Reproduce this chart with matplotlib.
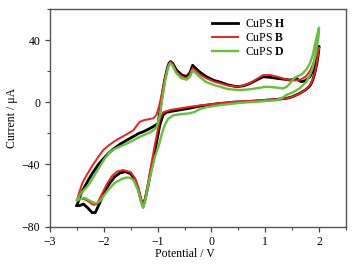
import numpy as np
import matplotlib
matplotlib.use("Agg")
import matplotlib.pyplot as plt

plt.rcParams['font.family'] = ['Liberation Serif', 'DejaVu Serif']
plt.rcParams['mathtext.fontset'] = 'custom'
plt.rcParams['mathtext.rm'] = 'Liberation Serif'
plt.rcParams['mathtext.bf'] = 'Liberation Serif:bold'

# CuPS H (black): anodic sweep -2.5 -> 2.0, then back
h_x = [-2.50, -2.45, -2.40, -2.35, -2.28, -2.20, -2.10, -2.00, -1.90, -1.80, -1.70, -1.57, -1.45,
       -1.35, -1.27, -1.18, -1.09, -1.03, -0.99, -0.93, -0.87, -0.82, -0.79, -0.76, -0.72, -0.65,
       -0.55, -0.46, -0.40, -0.35, -0.30, -0.22, -0.10, 0.05, 0.16, 0.30, 0.47, 0.60, 0.71, 0.85,
       0.96, 1.10, 1.21, 1.35, 1.46, 1.53, 1.58, 1.63, 1.67, 1.75, 1.83, 1.88, 1.92, 1.96, 2.00,
       1.99, 1.96, 1.92, 1.88, 1.83, 1.75, 1.64, 1.50, 1.39, 1.20, 1.02, 0.70, 0.40, 0.10, -0.22,
       -0.40, -0.60, -0.77, -0.84, -0.90, -0.96, -1.00, -1.05, -1.12, -1.18, -1.23, -1.27, -1.31,
       -1.36, -1.42, -1.50, -1.60, -1.70, -1.80, -1.90, -2.00, -2.08, -2.16, -2.22, -2.30, -2.38,
       -2.45, -2.50]
h_y = [-66.5, -61, -57, -54, -49.5, -45, -40, -36, -32.3, -29.5, -27, -24.3, -22,
       -20, -19, -17.5, -15.8, -14.5, -13.6, 1.4, 14.3, 22, 25, 26.2, 25, 20.7,
       17.5, 16.5, 19, 23.8, 22, 19.5, 16.5, 14, 13, 11.2, 10, 10.6, 12, 14.5,
       16.4, 16, 15.4, 14.8, 14.3, 14.8, 15.4, 14, 13.2, 14, 16.4, 20, 26, 31, 36,
       32, 25, 18.6, 14, 10.5, 8, 5.7, 3.5, 2.5, 1.8, 1.3, 0.5, 0, -1.0, -2.5,
       -3.8, -5, -6, -6.5, -8.2, -14.7, -22, -31, -43, -54, -62, -67, -63,
       -56, -50, -46, -44.7, -45.5, -48, -52.5, -58.5, -65, -71, -71, -68, -65.5,
       -66.5, -66.5]

# CuPS B (red)
b_x = [-2.50, -2.45, -2.40, -2.32, -2.20, -2.10, -2.01, -1.90, -1.80, -1.70, -1.57, -1.45, -1.40,
       -1.33, -1.25, -1.15, -1.08, -1.02, -0.97, -0.92, -0.86, -0.80, -0.76, -0.72, -0.65, -0.55,
       -0.46, -0.40, -0.35, -0.30, -0.22, -0.10, 0.05, 0.16, 0.30, 0.47, 0.60, 0.75, 0.96, 1.10,
       1.27, 1.40, 1.55, 1.65, 1.75, 1.83, 1.88, 1.93, 1.97, 2.00,
       1.97, 1.93, 1.88, 1.83, 1.75, 1.64, 1.50, 1.39, 1.20, 1.00, 0.70, 0.40, 0.12, -0.20,
       -0.40, -0.60, -0.77, -0.90, -0.96, -1.00, -1.05, -1.12, -1.18, -1.23, -1.27, -1.31, -1.36,
       -1.42, -1.50, -1.64, -1.75, -1.85, -1.95, -2.05, -2.13, -2.20, -2.28, -2.38, -2.45, -2.50]
b_y = [-63, -57, -52, -46.8, -40, -35, -30.7, -27.5, -25, -23, -20.5, -18, -15.5,
       -12.5, -11.5, -10.8, -10.3, -8, -2, 6, 16, 24, 26, 24.5, 19.5, 16.5,
       15.5, 18, 22, 20.5, 18, 15.5, 13.2, 12.2, 10.8, 10, 10.8, 13, 17.5, 17.5,
       16, 14.5, 14, 14.5, 16.5, 20, 24, 29, 33, 35,
       28, 20, 14.5, 11, 8, 5.5, 3.5, 2.5, 1.9, 1.5, 0.8, 0.3, -0.8, -2,
       -2.9, -4, -5, -6.5, -11, -18, -27, -40, -52, -61, -66, -62, -55,
       -49, -45, -43.6, -44.5, -47.5, -53, -60, -65.5, -66, -64, -62, -62.5, -63]

# CuPS D (green)
d_x = [-2.50, -2.45, -2.40, -2.33, -2.26, -2.15, -2.00, -1.89, -1.80, -1.70, -1.57, -1.45, -1.35,
       -1.25, -1.15, -1.08, -1.02, -0.97, -0.92, -0.86, -0.81, -0.77, -0.73, -0.66, -0.56, -0.46,
       -0.40, -0.35, -0.30, -0.22, -0.10, 0.05, 0.16, 0.30, 0.53, 0.75, 1.02, 1.20, 1.33, 1.40,
       1.46, 1.52, 1.58, 1.65, 1.70, 1.77, 1.83, 1.88, 1.93, 1.97, 2.00,
       1.99, 1.96, 1.93, 1.88, 1.83, 1.76, 1.70, 1.64, 1.52, 1.39, 1.30, 1.21, 0.90, 0.50, 0.16,
       -0.10, -0.22, -0.30, -0.40, -0.55, -0.70, -0.80, -0.87, -0.92, -0.98, -1.05, -1.12, -1.18,
       -1.23, -1.27, -1.31, -1.36, -1.45, -1.52, -1.58, -1.68, -1.80, -1.90, -2.00, -2.07, -2.13,
       -2.20, -2.28, -2.36, -2.41, -2.50]
d_y = [-63, -60, -57.5, -55, -52, -45.5, -37, -32, -30, -28.5, -26.5, -24.5, -22.5,
       -21, -19.5, -18, -16, -10, 1, 14, 22, 25, 24, 19, 15.5, 14.5,
       16.5, 20.5, 19, 16.4, 13, 11, 10, 8.5, 7.8, 8.5, 10, 9.5, 8.9, 10,
       12.1, 15, 16.4, 17.5, 18.6, 21.5, 25, 30, 38, 44, 48,
       42, 36, 30, 22, 17.5, 13, 11, 8.9, 6.5, 4.6, 2.5, 1.4, 0.5, -0.5, -1.8,
       -3.2, -4.5, -6, -7.1, -7.6, -8.3, -10.4, -14.7, -20, -28, -35, -45, -54,
       -63, -68, -64, -57, -50, -48.5, -48.5, -49.5, -52, -55.5, -60, -63.5, -65,
       -64.5, -63, -61.5, -62, -63]

fig = plt.figure(figsize=(3.63, 2.65), dpi=100)
ax = fig.add_axes([0.138, 0.145, 0.815, 0.821])

ax.plot(h_x, h_y, color='black', lw=2.0, label=r'CuPS $\mathbf{H}$')
ax.plot(b_x, b_y, color='#f02020', lw=1.4, label=r'CuPS $\mathbf{B}$')
ax.plot(d_x, d_y, color='#66c03c', lw=1.7, label=r'CuPS $\mathbf{D}$')

ax.set_xlim(-3, 2.5)
ax.set_ylim(-80, 60)
ax.set_xticks([-3, -2, -1, 0, 1, 2])
ax.set_xticks(np.arange(-2.5, 2.6, 1.0), minor=True)
ax.set_yticks([-80, -40, 0, 40])
ax.set_yticks([-60, -20, 20, 60], minor=True)
ax.tick_params(which='both', direction='out', labelsize=8.5, color='#444444')
ax.tick_params(which='major', length=3.5, width=0.9)
ax.tick_params(which='minor', length=2, width=0.8)
for s in ax.spines.values():
    s.set_color('#555555')
    s.set_linewidth(1.0)

ax.set_xlabel('Potential / V', fontsize=8.5, labelpad=2)
ax.xaxis.set_label_coords(0.455, -0.1)
ax.set_ylabel('Current / μA', fontsize=8.5, labelpad=3)

ax.legend(loc='upper right', bbox_to_anchor=(0.82, 0.99), frameon=False, fontsize=8.5,
          handlelength=2.2, handletextpad=0.6, labelspacing=0.15, borderaxespad=0.2)

fig.savefig('out.png', dpi=100, facecolor='white')
